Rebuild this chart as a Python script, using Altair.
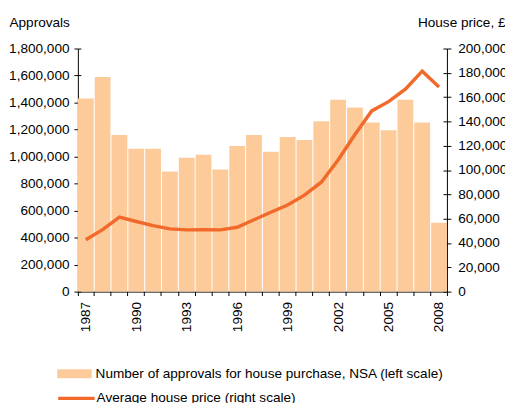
import altair as alt
import pandas as pd

years = [1987, 1988, 1989, 1990, 1991, 1992, 1993, 1994, 1995, 1996, 1997,
         1998, 1999, 2000, 2001, 2002, 2003, 2004, 2005, 2006, 2007, 2008]
approvals = [1430000, 1590000, 1160000, 1057000, 1057000, 890000, 992000, 1013000,
             905000, 1079000, 1160000, 1035000, 1144000, 1122000, 1261000, 1421000,
             1363000, 1253000, 1195000, 1421000, 1253000, 510000]
prices = [42700, 51000, 61300, 57700, 54300, 51600, 50800, 51000, 50800, 52900, 59100,
          65300, 71200, 79400, 90000, 108300, 129300, 148700, 156300, 166600, 181400, 168400]
left_ticks = [0, 200000, 400000, 600000, 800000, 1000000, 1200000, 1400000, 1600000, 1800000]
right_ticks = [0, 20000, 40000, 60000, 80000, 100000, 120000, 140000, 160000, 180000, 200000]
label_years = [1987, 1990, 1993, 1996, 1999, 2002, 2005, 2008]
bar_label = "Number of approvals for house purchase, NSA (left scale)"
line_label = "Average house price (right scale)"

BAR = "#FDCB9A"
LINE = "#F26A2B"
FONT = "Liberation Sans"
FS = 13.8
W, H = 375, 247

df = pd.DataFrame({
    "year": years,
    "approvals": approvals,
    "price": prices,
    "bar_series": [bar_label] * len(years),
    "line_series": [line_label] * len(years),
})

label_list = "[" + ",".join(str(v) for v in label_years) + "]"

x = alt.X(
    "year:O",
    scale=alt.Scale(paddingInner=0.06, paddingOuter=0),
    axis=alt.Axis(
        title=None, labelAngle=270, labelAlign="right", labelBaseline="middle",
        tickBand="extent", tickSize=4, labelPadding=6,
        labelExpr=f"indexof({label_list}, datum.value) >= 0 ? datum.label : ''",
    ),
)
left_scale = alt.Scale(domain=[0, 1800000], nice=False)
right_scale = alt.Scale(domain=[0, 200000], nice=False)

bars = alt.Chart(df).mark_bar(strokeWidth=0).encode(
    x=x,
    y=alt.Y(
        "approvals:Q", scale=left_scale,
        axis=alt.Axis(
            values=left_ticks, format=",.0f", title="Approvals", titleAngle=0,
            titleAlign="left", titleBaseline="alphabetic", titleX=-70, titleY=-22,
            tickSize=4, labelPadding=5,
        ),
    ),
    fill=alt.Fill(
        "bar_series:N",
        scale=alt.Scale(domain=[bar_label], range=[BAR]),
        legend=alt.Legend(
            title=None, orient="none", legendX=-21, legendY=313,
            symbolType="M-1,-0.257H1V0.257H-1Z", symbolSize=1225,
            symbolStrokeWidth=0, labelLimit=600, padding=0,
        ),
    ),
)

# inward half of the crossing ticks on the left axis
left_inner = alt.Chart(df).mark_line(opacity=0).encode(
    x=x,
    y=alt.Y(
        "approvals:Q", scale=left_scale,
        axis=alt.Axis(orient="right", offset=-W, values=left_ticks, labels=False,
                      domain=False, title=None, tickSize=3),
    ),
)

line = alt.Chart(df).mark_line(strokeWidth=3.5).encode(
    x=x,
    y=alt.Y(
        "price:Q", scale=right_scale,
        axis=alt.Axis(
            orient="right", values=right_ticks, format=",.0f", title="House price, £",
            titleAngle=0, titleAlign="right", titleBaseline="alphabetic",
            titleX=59, titleY=-22, tickSize=4, labelPadding=7,
        ),
    ),
    stroke=alt.Stroke(
        "line_series:N",
        scale=alt.Scale(domain=[line_label], range=[LINE]),
        legend=alt.Legend(
            title=None, orient="none", legendX=-22, legendY=335,
            symbolType="stroke", symbolSize=1369, symbolStrokeWidth=3.5,
            labelOffset=0, labelLimit=600, padding=0,
        ),
    ),
)

# inward half of the crossing ticks on the right axis
right_inner = alt.Chart(df).mark_line(opacity=0).encode(
    x=x,
    y=alt.Y(
        "price:Q", scale=right_scale,
        axis=alt.Axis(orient="left", offset=-W, values=right_ticks, labels=False,
                      domain=False, title=None, tickSize=4),
    ),
)

chart = alt.layer(bars, left_inner, line, right_inner).resolve_scale(
    y="independent"
).properties(
    width=W, height=H,
    padding={"left": 71, "top": 38, "right": 59, "bottom": 110},
    autosize=alt.AutoSizeParams(type="none"),
).configure_view(stroke=None).configure_axis(
    grid=False, domainColor="#000", tickColor="#000", labelColor="#000",
    titleColor="#000", labelFont=FONT, titleFont=FONT, labelFontSize=FS,
    titleFontSize=FS, titleFontWeight="normal", domainWidth=1, tickWidth=1,
).configure_legend(
    labelFont=FONT, labelFontSize=FS, labelColor="#000",
)

chart.save("out.html", embed_options={"renderer": "svg", "actions": False})
